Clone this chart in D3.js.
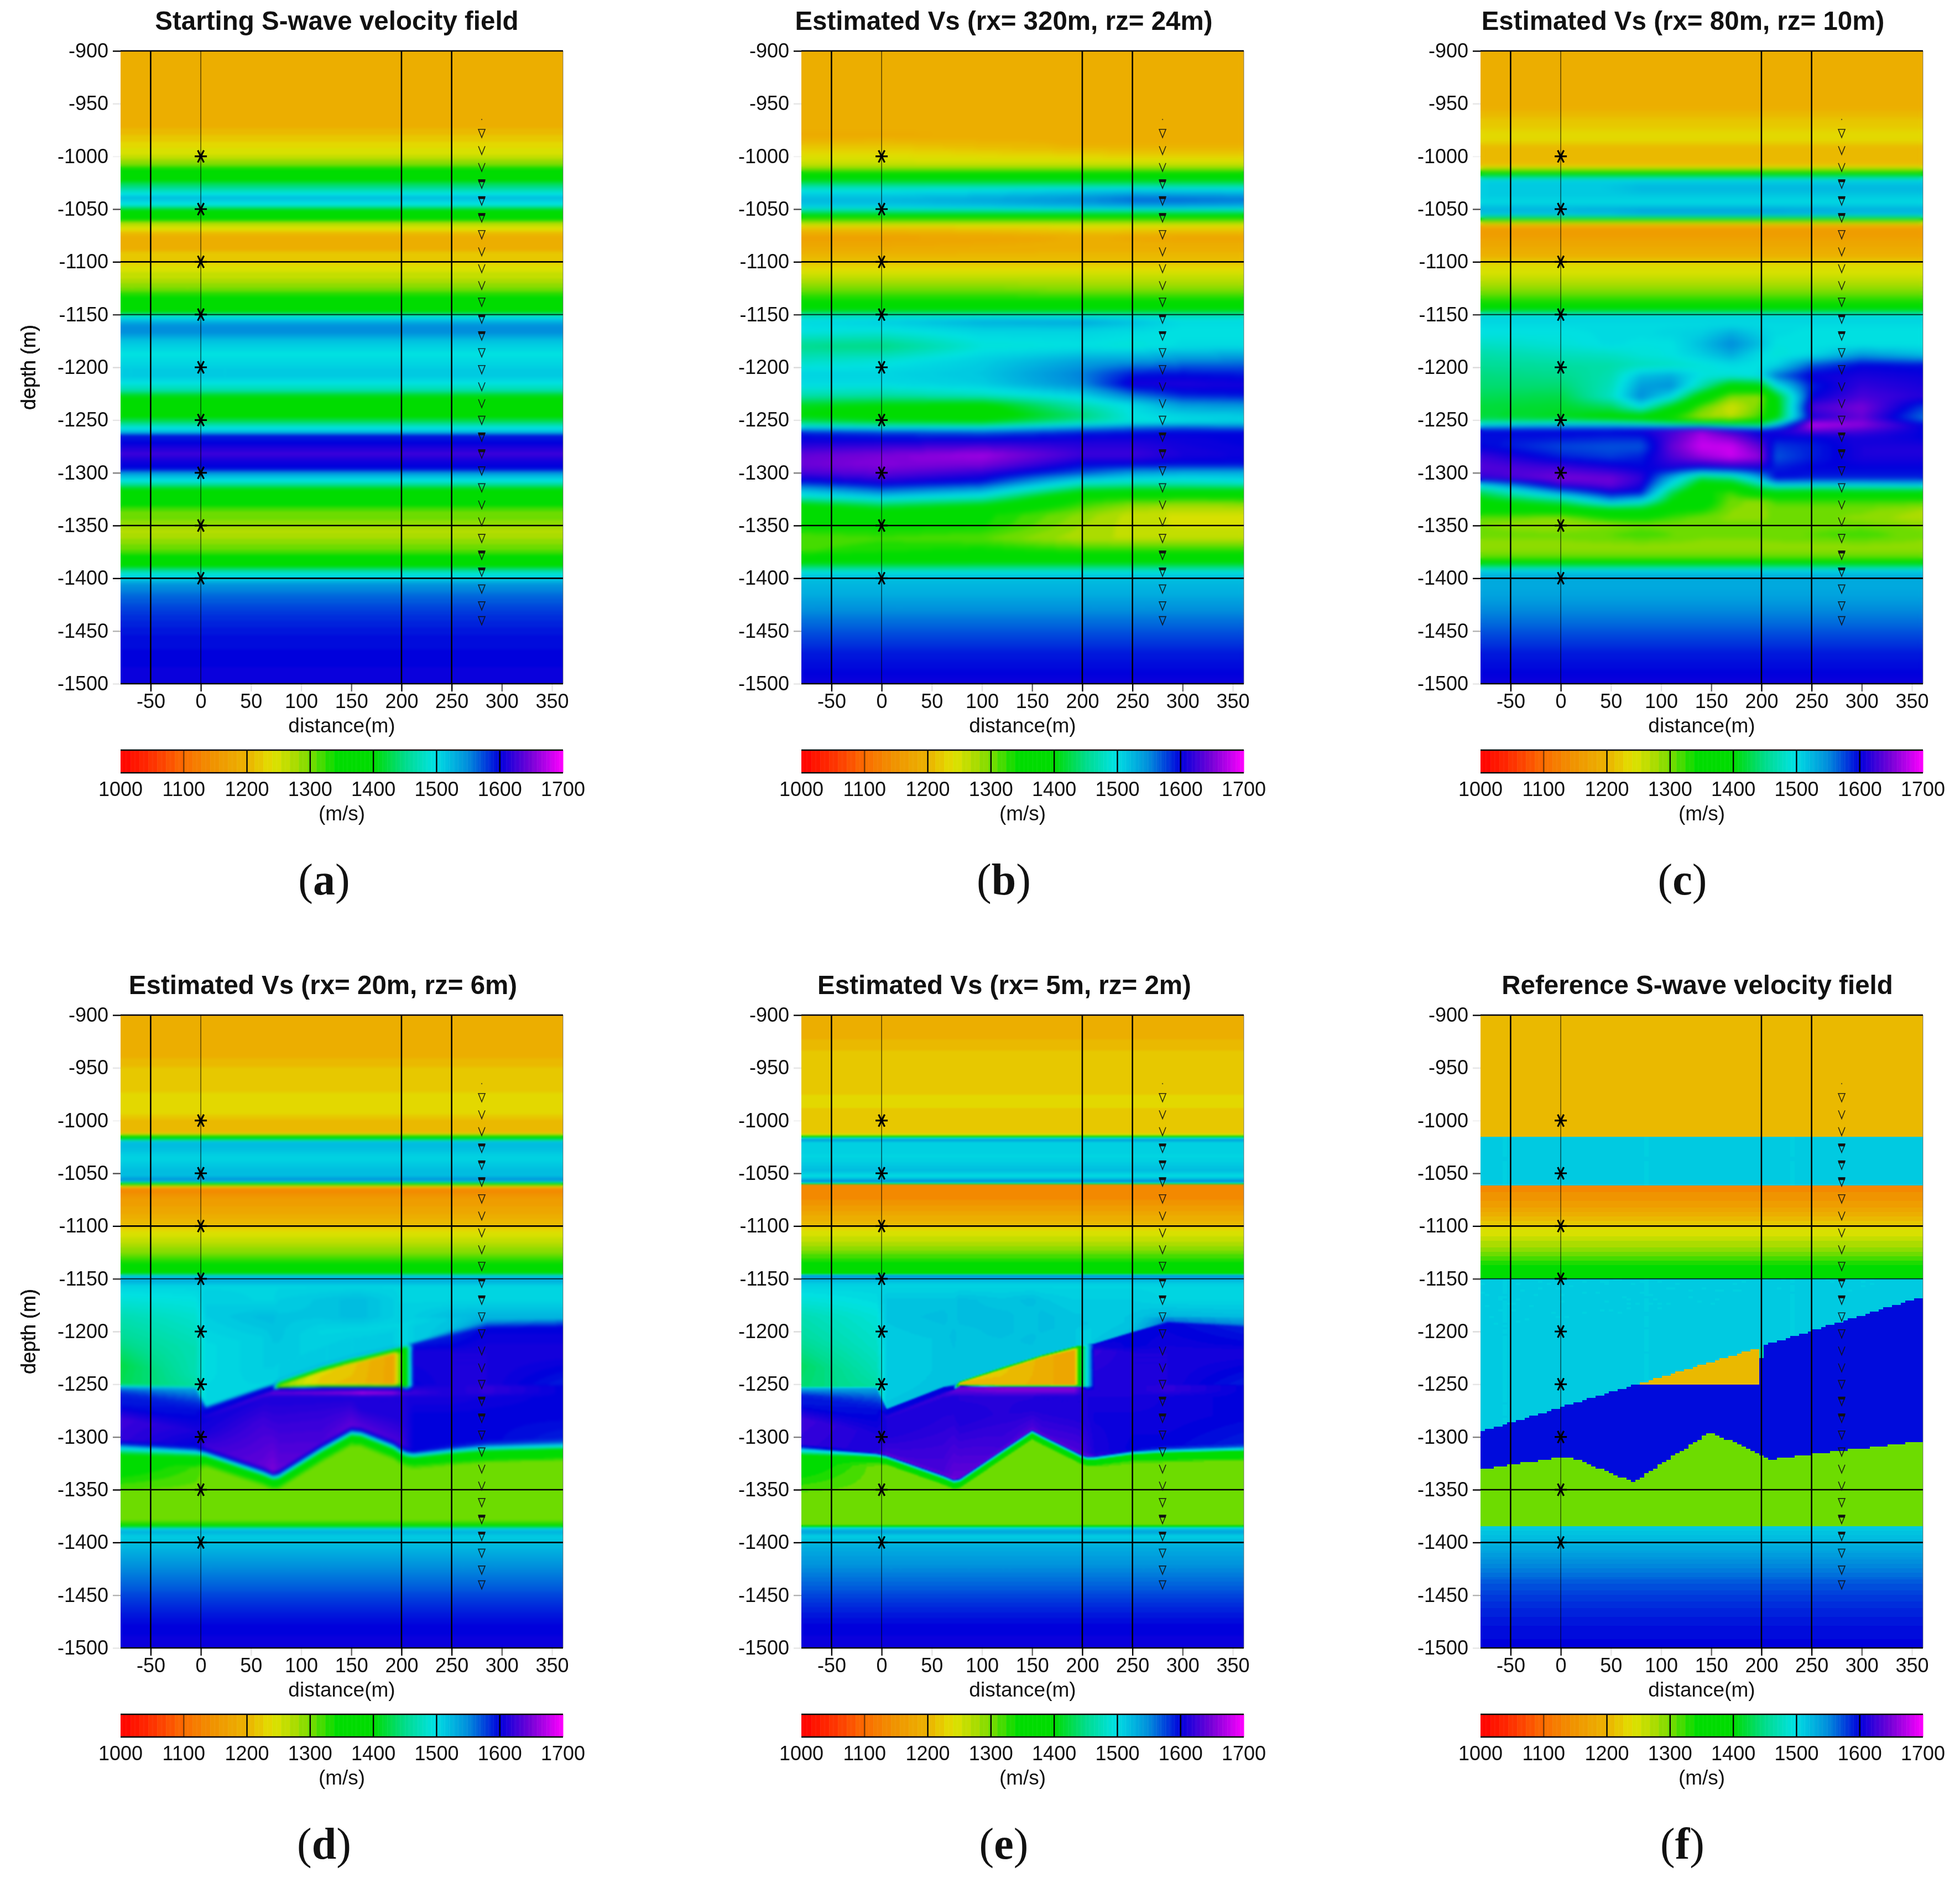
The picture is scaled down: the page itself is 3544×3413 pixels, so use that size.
<!DOCTYPE html>
<html>
<head>
<meta charset="utf-8">
<script src="https://cdn.jsdelivr.net/npm/d3@7"></script>
<style>
html, body { margin: 0; padding: 0; background: #fff; }
#wrap { position: relative; width: 3544px; height: 3413px; overflow: hidden; }
canvas, svg { position: absolute; left: 0; top: 0; }
text { font-family: "Liberation Sans", Arial, sans-serif; fill: #111; }
</style>
</head>
<body>
<div id="wrap"></div>
<script>
// ticks
const xTicks = [-50, 0, 50, 100, 150, 200, 250, 300, 350]
const yTicks = [-900, -950, -1000, -1050, -1100, -1150, -1200, -1250, -1300, -1350, -1400, -1450, -1500]
const colorTicks = [1000, 1100, 1200, 1300, 1400, 1500, 1600, 1700]
// how dark each tick and grid line came out in the picture
const xTickAlpha = [1, 0.9, 0.1, 0.1, 0.6, 1, 1, 0.6, 0.1]
const xLineAlpha = [1, 0.6, 0, 0, 0, 1, 1, 0, 0]
const yTickAlpha = [1, 0.1, 0.05, 0.7, 1, 0.8, 0.15, 0.1, 0.5, 1, 1, 0.3, 0.1]
const yLineAlpha = [1, 0, 0, 0, 1, 0.75, 0, 0, 0, 1, 1, 0, 1]
const colorTickAlpha = [0, 0.5, 1, 1, 1, 1, 1, 0]

// palette of the colour bar
const paletteVs = [1000, 1040, 1100, 1150, 1200, 1240, 1270, 1300, 1340, 1400, 1450, 1495, 1510, 1550, 1600, 1650, 1700]
const paletteColors = ['#ff0000', '#ff2800', '#fa6e00', '#f09600', '#ebb400', '#e1e100', '#b4dc00', '#73dc00', '#00dc00', '#00dc00', '#00dc8c', '#00e1e1', '#00cde1', '#008cdc', '#0000dc', '#7800d7', '#ff00ff']

// shots and receivers
const sourceX = 0
const sourceDepths = [-1000, -1050, -1100, -1150, -1200, -1250, -1300, -1350, -1400]
const receiverX = 280
const receiverDepths = [-978, -994, -1010, -1026, -1042, -1058, -1074, -1090, -1106, -1122, -1138, -1154, -1170, -1186, -1202, -1218, -1234, -1250, -1266, -1282, -1298, -1314, -1330, -1346, -1362, -1378, -1394, -1410, -1426, -1440]
const receiverStyle = [1, 0, 0, 2, 2, 2, 1, 0, 0, 0, 1, 2, 2, 1, 1, 0, 0, 1, 2, 2, 1, 1, 0, 0, 1, 2, 2, 1, 1, 1]

const titles = ['Starting S-wave velocity field', 'Estimated Vs (rx= 320m, rz= 24m)', 'Estimated Vs (rx= 80m, rz= 10m)', 'Estimated Vs (rx= 20m, rz= 6m)', 'Estimated Vs (rx= 5m, rz= 2m)', 'Reference S-wave velocity field']
const letters = ['a', 'b', 'c', 'd', 'e', 'f']

// each field is a list of [depth, vs] rows; a value is
// either one number or one number per column of the field's x list

// (a)
const xA = [-80, 361]
const rowsA = [
  [-900, 1195], [-973, 1195], [-986, 1225], [-999, 1255], [-1006, 1290], [-1013, 1340], [-1022, 1400], [-1032, 1470], [-1039, 1520], [-1046, 1490], [-1050, 1420], [-1055, 1370], [-1060, 1330], [-1063, 1280], [-1068, 1245], [-1074, 1200], [-1080, 1185], [-1088, 1190], [-1092, 1215], [-1100, 1225], [-1106, 1245], [-1116, 1265], [-1125, 1295], [-1133, 1340], [-1146, 1390], [-1150, 1450], [-1153, 1505], [-1160, 1545], [-1166, 1550], [-1174, 1520], [-1187, 1495],
  [-1193, 1500], [-1201, 1510], [-1209, 1510], [-1215, 1495], [-1221, 1470], [-1227, 1410], [-1237, 1370], [-1245, 1390], [-1251, 1430], [-1257, 1490], [-1261, 1520], [-1265, 1590], [-1272, 1600], [-1282, 1625], [-1290, 1605], [-1296, 1595], [-1302, 1530], [-1308, 1490], [-1314, 1420], [-1324, 1350], [-1330, 1340], [-1336, 1310], [-1348, 1290], [-1356, 1265], [-1364, 1285], [-1374, 1310], [-1380, 1350], [-1388, 1400], [-1396, 1490], [-1400, 1510], [-1406, 1545], [-1418, 1565], [-1438, 1585], [-1456, 1595], [-1488, 1603], [-1500, 1605]
]

// (b)
const xB = [-80, 0, 100, 200, 250, 300, 361]
const rowsB = [
  [-900, 1195], [-970, 1195], [-979, [1180, 1180, 1185, 1195, 1195, 1195, 1195]], [-990, [1212, 1215, 1205, 1195, 1195, 1195, 1195]], [-1000, [1240, 1240, 1235, 1230, 1225, 1225, 1225]], [-1008, 1260], [-1013, 1300], [-1015, 1345], [-1022, 1400], [-1027, 1450],
  [-1032, [1495, 1495, 1500, 1510, 1515, 1510, 1510]], [-1041, [1525, 1525, 1535, 1550, 1565, 1565, 1560]], [-1048, [1510, 1510, 1515, 1525, 1530, 1530, 1525]], [-1053, 1440], [-1057, 1370], [-1061, 1300], [-1064, 1255], [-1068, [1215, 1215, 1220, 1230, 1230, 1225, 1225]], [-1077, [1165, 1165, 1172, 1185, 1180, 1175, 1175]], [-1085, [1180, 1180, 1185, 1190, 1190, 1190, 1190]],
  [-1097, 1205], [-1103, 1225], [-1114, 1260], [-1126, [1300, 1300, 1300, 1292, 1290, 1290, 1290]], [-1137, 1342], [-1146, 1395], [-1150, 1470],
  [-1156, [1500, 1510, 1530, 1535, 1520, 1500, 1500]], [-1166, [1495, 1490, 1505, 1505, 1500, 1495, 1495]], [-1180, [1450, 1445, 1490, 1495, 1490, 1500, 1500]], [-1194, [1480, 1490, 1510, 1535, 1540, 1550, 1555]], [-1206, [1505, 1505, 1515, 1555, 1590, 1595, 1590]], [-1216, [1500, 1500, 1510, 1550, 1610, 1612, 1608]], [-1226, [1470, 1465, 1480, 1510, 1560, 1590, 1595]], [-1236, [1410, 1400, 1390, 1470, 1500, 1540, 1545]], [-1246, [1400, 1380, 1375, 1440, 1495, 1505, 1510]], [-1252, [1440, 1420, 1410, 1470, 1490, 1500, 1510]], [-1257, [1510, 1500, 1500, 1540, 1560, 1570, 1560]], [-1262, [1590, 1580, 1570, 1590, 1595, 1600, 1600]], [-1270, [1605, 1605, 1610, 1610, 1610, 1605, 1600]], [-1283, [1640, 1650, 1665, 1625, 1625, 1610, 1605]], [-1292, [1645, 1655, 1650, 1600, 1600, 1595, 1595]], [-1300, [1630, 1640, 1620, 1570, 1540, 1530, 1530]], [-1309, [1590, 1610, 1590, 1490, 1480, 1480, 1490]], [-1317, [1520, 1560, 1530, 1410, 1400, 1400, 1400]], [-1323, [1480, 1510, 1480, 1345, 1340, 1340, 1340]], [-1331, [1390, 1430, 1400, 1320, 1290, 1280, 1285]], [-1340, [1350, 1355, 1345, 1290, 1260, 1250, 1250]], [-1350, [1345, 1345, 1340, 1280, 1260, 1250, 1250]], [-1362, [1310, 1320, 1310, 1270, 1265, 1265, 1265]], [-1374, [1320, 1335, 1345, 1330, 1330, 1330, 1330]], [-1383, [1370, 1370, 1380, 1380, 1380, 1380, 1380]],
  [-1389, 1440], [-1395, 1500], [-1400, 1520], [-1415, 1530], [-1440, 1560], [-1470, 1590], [-1500, 1605]
]

// (c)
const xC = [-80, 0, 50, 80, 110, 140, 170, 198, 215, 250, 300, 361]
const rowsC = [
  [-900, 1195], [-956, 1195], [-960, 1205], [-974, 1225], [-986, 1230], [-990, 1205], [-1007, 1205], [-1011, 1240], [-1013, 1290], [-1015, 1350], [-1018, 1390], [-1019.5, 1470], [-1023, 1510], [-1030, [1510, 1510, 1515, 1525, 1525, 1525, 1525, 1525, 1525, 1525, 1525, 1525]], [-1039, 1510], [-1044, 1500], [-1049, 1525], [-1053, [1525, 1525, 1530, 1540, 1540, 1540, 1540, 1540, 1540, 1535, 1530, 1530]], [-1057, 1500], [-1059, 1390], [-1061, 1300], [-1064, 1220], [-1067, 1165], [-1074, 1160], [-1082, 1175], [-1097, 1200], [-1102, 1235], [-1114, 1255], [-1126, 1290], [-1140, 1340], [-1146, 1395], [-1149, 1480], [-1154, 1510],
  [-1158, 1500],
  [-1168, [1495, 1495, 1500, 1500, 1505, 1510, 1530, 1510, 1500, 1495, 1495, 1495]],
  [-1178, [1480, 1490, 1500, 1495, 1495, 1520, 1550, 1520, 1495, 1495, 1495, 1495]],
  [-1188, [1465, 1475, 1480, 1490, 1495, 1510, 1530, 1500, 1490, 1500, 1540, 1520]],
  [-1198, [1455, 1460, 1465, 1475, 1480, 1490, 1500, 1495, 1505, 1570, 1600, 1595]],
  [-1208, [1445, 1450, 1470, 1520, 1530, 1495, 1490, 1500, 1560, 1605, 1610, 1605]],
  [-1218, [1440, 1440, 1475, 1540, 1545, 1470, 1380, 1390, 1490, 1590, 1620, 1610]],
  [-1228, [1430, 1425, 1480, 1550, 1500, 1380, 1295, 1290, 1400, 1600, 1630, 1615]],
  [-1238, [1420, 1415, 1430, 1490, 1400, 1310, 1250, 1300, 1390, 1630, 1650, 1580]],
  [-1248, [1420, 1410, 1390, 1370, 1330, 1280, 1270, 1320, 1400, 1610, 1640, 1560]],
  [-1254.5, [1500, 1520, 1520, 1510, 1490, 1480, 1450, 1440, 1520, 1680, 1660, 1600]],
  [-1260, [1600, 1600, 1600, 1610, 1630, 1660, 1620, 1600, 1610, 1640, 1630, 1600]],
  [-1266, [1595, 1595, 1590, 1590, 1630, 1670, 1650, 1610, 1600, 1600, 1610, 1600]],
  [-1275, [1600, 1575, 1570, 1570, 1640, 1680, 1680, 1640, 1580, 1590, 1610, 1610]],
  [-1285, [1625, 1590, 1580, 1590, 1630, 1660, 1680, 1660, 1570, 1590, 1610, 1610]],
  [-1295, [1635, 1625, 1610, 1600, 1610, 1600, 1610, 1610, 1590, 1600, 1600, 1600]],
  [-1305, [1620, 1650, 1645, 1620, 1530, 1430, 1450, 1530, 1600, 1590, 1590, 1590]],
  [-1312, [1500, 1620, 1640, 1610, 1490, 1380, 1380, 1450, 1500, 1500, 1500, 1510]],
  [-1319, [1430, 1540, 1600, 1590, 1430, 1350, 1320, 1380, 1380, 1370, 1380, 1380]],
  [-1327, [1390, 1440, 1530, 1500, 1400, 1370, 1300, 1290, 1320, 1320, 1320, 1320]],
  [-1335, [1360, 1370, 1400, 1400, 1350, 1340, 1295, 1290, 1300, 1300, 1300, 1280]],
  [-1343, [1310, 1290, 1340, 1345, 1320, 1300, 1290, 1290, 1300, 1300, 1290, 1270]],
  [-1349, [1295, 1280, 1290, 1300, 1300, 1300, 1300, 1300, 1300, 1300, 1300, 1290]],
  [-1359, [1300, 1300, 1310, 1320, 1310, 1300, 1300, 1300, 1305, 1310, 1320, 1300]],
  [-1371, 1285], [-1381, 1310], [-1385, 1380], [-1389, 1450], [-1393, 1510], [-1399, 1530], [-1415, 1535], [-1440, 1560], [-1470, 1590], [-1500, 1605]
]

// (d) and (e) share their columns: interfaces bend at these distances
const xDE = [-80, -5, 5, 62, 72, 78, 120, 150, 160, 192, 198, 205, 212, 250, 285, 361]

// (d)
const upperD = [
  [-900, 1195], [-940, 1195], [-944, 1210], [-970, 1215], [-977, 1235], [-994, 1225], [-1000, 1205], [-1012, 1210], [-1014, 1300], [-1015.5, 1370], [-1018, 1440], [-1020, 1520], [-1026, 1520], [-1036, 1505], [-1047, 1520], [-1053, 1520], [-1056.5, 1555], [-1058, 1500], [-1060, 1380], [-1062, 1240], [-1065, 1130], [-1075, 1160], [-1085, 1175], [-1098, 1205], [-1104, 1235], [-1115, 1265], [-1127, 1300], [-1136, 1340], [-1145, 1395], [-1147, 1510], [-1152, 1530], [-1157, 1505]
]
const middleD = [
  [-1170, [1490, 1495, 1510, 1505, 1505, 1510, 1515, 1520, 1520, 1510, 1505, 1505, 1505, 1505, 1505, 1505]],
  [-1186, [1470, 1485, 1510, 1520, 1520, 1515, 1515, 1520, 1520, 1510, 1510, 1510, 1510, 1520, 1525, 1525]],
  [[-1205, -1215, -1215, -1205, -1205, -1205, -1200, -1198, -1198, -1195, -1194, -1192, -1190, -1187, -1187, -1187], [1455, 1470, 1500, 1510, 1515, 1515, 1505, 1505, 1505, 1505, 1505, 1505, 1505, 1515, 1525, 1525]],
  [[-1232, -1240, -1240, -1235, -1235, -1230, -1215, -1205, -1205, -1200, -1200, -1198, -1195, -1190, -1188, -1188], [1425, 1470, 1500, 1510, 1510, 1510, 1510, 1510, 1510, 1510, 1505, 1505, 1510, 1515, 1530, 1530]],
  [[-1250, -1252, -1270, -1252, -1249, -1244, -1230, -1222, -1220, -1213, -1212, -1211, -1210, -1198, -1190, -1188], [1430, 1460, 1505, 1505, 1505, 1510, 1510, 1510, 1510, 1510, 1505, 1505, 1510, 1520, 1540, 1540]],
  [[-1253, -1254, -1272, -1254, -1251, -1246, -1232, -1224, -1222, -1215, -1214, -1212, -1212, -1204, -1197, -1196], [1540, 1535, 1560, 1570, 1560, 1530, 1530, 1530, 1530, 1530, 1520, 1510, 1590, 1590, 1600, 1600]],
  [[-1256, -1258, -1274, -1255, -1252, -1250, -1236, -1228, -1226, -1218, -1217, -1216, -1216, -1214, -1210, -1210], [1570, 1550, 1600, 1600, 1600, 1380, 1380, 1380, 1380, 1380, 1380, 1400, 1600, 1600, 1605, 1605]],
  [[-1258, -1262, -1275, -1256, -1253, -1251, -1239, -1231, -1229, -1222, -1221, -1220, -1220, -1220, -1220, -1220], [1580, 1565, 1600, 1600, 1600, 1300, 1230, 1220, 1205, 1175, 1300, 1400, 1610, 1610, 1610, 1610]],
  [[-1259, -1265, -1276, -1257, -1254, -1252, -1249.5, -1249.5, -1249.5, -1249.5, -1249.5, -1249.5, -1250, -1250, -1250, -1250], [1585, 1575, 1600, 1600, 1600, 1300, 1215, 1205, 1200, 1175, 1300, 1400, 1600, 1610, 1610, 1590]],
  [[-1260, -1268, -1277, -1258, -1255, -1253, -1252, -1252, -1252, -1252, -1252, -1252, -1252, -1252, -1252, -1252], [1590, 1585, 1600, 1600, 1600, 1380, 1380, 1380, 1380, 1380, 1380, 1400, 1610, 1610, 1620, 1600]],
  [[-1262, -1271, -1278, -1259, -1256, -1254, -1253, -1253, -1253, -1253, -1253, -1253, -1253, -1253, -1253, -1253], [1590, 1590, 1600, 1610, 1620, 1600, 1580, 1580, 1580, 1580, 1590, 1540, 1610, 1610, 1620, 1600]],
  [[-1264, -1274, -1280, -1260, -1258, -1258, -1258, -1258, -1258, -1258, -1258, -1258, -1258, -1258, -1258, -1258], [1590, 1595, 1610, 1630, 1640, 1640, 1650, 1660, 1670, 1660, 1640, 1630, 1625, 1610, 1620, 1600]],
  [[-1270, -1282, -1284, -1264, -1262, -1262, -1262, -1262, -1262, -1262, -1262, -1262, -1262, -1262, -1262, -1262], [1595, 1600, 1605, 1610, 1610, 1610, 1610, 1610, 1610, 1610, 1610, 1610, 1610, 1610, 1605, 1600]],
  [[-1283, -1295, -1296, -1285, -1283, -1283, -1278, -1272, -1272, -1278, -1280, -1280, -1280, -1280, -1280, -1280], [1625, 1610, 1610, 1625, 1620, 1620, 1620, 1620, 1610, 1610, 1610, 1610, 1600, 1600, 1600, 1600]]
]
const baseD = [-1310, -1314, -1316, -1334, -1338, -1337, -1312, -1296, -1297, -1309, -1313, -1316, -1317, -1313, -1310, -1308]
// offsets count downward from the interface
const rimD = [
  [-7, [1620, 1600, 1625, 1640, 1650, 1640, 1630, 1640, 1635, 1630, 1630, 1615, 1600, 1600, 1600, 1590]],
  [-3, [1580, 1590, 1600, 1610, 1620, 1600, 1600, 1600, 1600, 1600, 1600, 1600, 1600, 1590, 1580, 1570]],
  [0, 1510],
  [2, [1490, 1470, 1450, 1450, 1450, 1450, 1450, 1450, 1450, 1450, 1450, 1450, 1450, 1450, 1460, 1470]],
  [3.5, [1450, 1420, 1385, 1385, 1385, 1385, 1385, 1385, 1385, 1385, 1385, 1385, 1385, 1385, 1390, 1395]],
  [8, [1390, 1375, 1350, 1350, 1350, 1350, 1350, 1350, 1350, 1350, 1350, 1350, 1350, 1365, 1375, 1380]],
  [11, [1380, 1350, 1315, 1315, 1315, 1315, 1315, 1315, 1315, 1315, 1315, 1315, 1320, 1330, 1340, 1345]],
  [15, [1370, 1320, 1300, 1300, 1300, 1300, 1300, 1300, 1300, 1300, 1300, 1300, 1300, 1300, 1300, 1300]]
]
const lowerD = [
  [-1354, 1300], [-1365, 1300], [-1378, 1300], [-1383, 1330], [-1385, 1400], [-1386.5, 1500], [-1390, 1530], [-1394, 1510], [-1405, 1525], [-1420, 1545], [-1440, 1565], [-1460, 1585], [-1480, 1600], [-1500, 1605]
]

// (e)
const upperE = [
  [-900, 1195], [-923, 1195], [-924.5, 1210], [-970, 1215], [-982, 1235], [-994, 1215], [-1012, 1225], [-1014.5, 1300], [-1016, 1450], [-1018, 1540], [-1021, 1510], [-1035, 1505], [-1047, 1520], [-1053, 1500], [-1058, 1550], [-1060, 1420], [-1061, 1140], [-1071, 1130], [-1084, 1165], [-1098, 1205], [-1103, 1235], [-1115, 1265], [-1127, 1310], [-1136, 1345], [-1145, 1395], [-1147, 1540], [-1152, 1520], [-1157, 1505]
]
const middleE = [
  [-1170, [1490, 1500, 1515, 1515, 1515, 1520, 1515, 1520, 1515, 1510, 1510, 1510, 1510, 1510, 1505, 1505]],
  [-1186, [1470, 1490, 1515, 1520, 1515, 1520, 1520, 1515, 1520, 1515, 1515, 1510, 1510, 1515, 1525, 1520]],
  [[-1205, -1215, -1215, -1205, -1205, -1205, -1200, -1198, -1198, -1195, -1194, -1192, -1190, -1187, -1180, -1185], [1460, 1480, 1510, 1515, 1520, 1515, 1520, 1515, 1520, 1515, 1515, 1515, 1510, 1515, 1530, 1520]],
  [[-1232, -1240, -1240, -1235, -1235, -1230, -1215, -1205, -1205, -1200, -1200, -1198, -1195, -1190, -1185, -1188], [1435, 1470, 1510, 1515, 1515, 1515, 1515, 1520, 1515, 1515, 1510, 1510, 1510, 1515, 1540, 1530]],
  [[-1252, -1252, -1273, -1252, -1250, -1246, -1232, -1224, -1221, -1213, -1212, -1211, -1211, -1200, -1190, -1193], [1440, 1460, 1515, 1515, 1515, 1515, 1515, 1515, 1515, 1515, 1510, 1505, 1515, 1520, 1560, 1550]],
  [[-1254, -1254, -1274, -1253, -1251, -1247, -1233.5, -1225, -1222, -1214, -1213, -1212, -1212, -1201, -1192, -1196], [1530, 1535, 1600, 1600, 1560, 1520, 1520, 1520, 1520, 1520, 1510, 1510, 1600, 1600, 1600, 1590]],
  [[-1257, -1258, -1275, -1254, -1252, -1248, -1235, -1226, -1223, -1215, -1214, -1216, -1216, -1214, -1212, -1212], [1560, 1550, 1600, 1600, 1600, 1350, 1350, 1350, 1350, 1350, 1350, 1500, 1610, 1600, 1605, 1600]],
  [[-1259, -1262, -1276, -1255, -1253, -1249, -1237, -1228, -1225, -1218, -1216, -1218, -1218, -1220, -1220, -1220], [1575, 1565, 1600, 1600, 1600, 1210, 1215, 1200, 1190, 1170, 1400, 1500, 1620, 1610, 1610, 1610]],
  [[-1260, -1265, -1277, -1256, -1254, -1250, -1250, -1250, -1250, -1250, -1250, -1250, -1250, -1250, -1250, -1250], [1585, 1575, 1600, 1600, 1600, 1210, 1205, 1195, 1190, 1170, 1400, 1500, 1610, 1610, 1610, 1590]],
  [[-1261, -1268, -1278, -1257, -1255, -1251, -1251.5, -1251.5, -1251.5, -1251.5, -1251.5, -1251.5, -1251.5, -1251.5, -1251.5, -1251.5], [1590, 1585, 1600, 1600, 1600, 1350, 1350, 1350, 1350, 1350, 1350, 1500, 1610, 1610, 1620, 1600]],
  [[-1262, -1271, -1279, -1258, -1256, -1252, -1253, -1253, -1253, -1253, -1253, -1253, -1253, -1253, -1253, -1253], [1590, 1590, 1605, 1610, 1640, 1640, 1650, 1650, 1650, 1650, 1630, 1570, 1610, 1610, 1620, 1600]],
  [[-1264, -1274, -1281, -1260, -1258, -1256, -1256, -1256, -1256, -1256, -1256, -1256, -1256, -1256, -1256, -1256], [1590, 1595, 1615, 1625, 1635, 1640, 1650, 1650, 1650, 1650, 1625, 1610, 1610, 1610, 1620, 1600]],
  [[-1270, -1282, -1285, -1264, -1262, -1262, -1262, -1262, -1262, -1262, -1262, -1262, -1262, -1262, -1262, -1262], [1595, 1600, 1610, 1610, 1610, 1615, 1615, 1615, 1610, 1610, 1610, 1610, 1610, 1610, 1605, 1600]],
  [[-1283, -1298, -1297, -1285, -1283, -1283, -1278, -1272, -1272, -1278, -1280, -1280, -1280, -1280, -1280, -1280], [1625, 1610, 1610, 1615, 1615, 1610, 1615, 1610, 1610, 1610, 1610, 1610, 1605, 1605, 1605, 1600]]
]
const baseE = [-1312, -1317, -1319, -1338, -1342, -1341, -1314, -1295, -1300, -1315, -1318, -1320, -1320, -1315, -1313, -1311]
const rimE = [
  [-5, [1620, 1610, 1625, 1630, 1640, 1640, 1625, 1630, 1625, 1630, 1630, 1620, 1610, 1600, 1600, 1590]],
  [-2, [1580, 1620, 1640, 1640, 1650, 1640, 1640, 1640, 1640, 1640, 1640, 1640, 1620, 1600, 1580, 1570]],
  [0, 1510],
  [1.5, [1490, 1450, 1440, 1440, 1440, 1440, 1440, 1440, 1440, 1440, 1440, 1440, 1440, 1440, 1450, 1460]],
  [2.5, [1460, 1400, 1375, 1375, 1375, 1375, 1375, 1375, 1375, 1375, 1375, 1375, 1375, 1375, 1385, 1390]],
  [6, [1390, 1350, 1345, 1345, 1345, 1345, 1345, 1345, 1345, 1345, 1345, 1345, 1350, 1355, 1365, 1370]],
  [8, [1380, 1320, 1305, 1305, 1305, 1305, 1305, 1305, 1305, 1305, 1305, 1305, 1310, 1320, 1340, 1350]],
  [12, [1370, 1300, 1300, 1300, 1300, 1300, 1300, 1300, 1300, 1300, 1300, 1300, 1300, 1300, 1300, 1300]]
]
const lowerE = [
  [-1356, 1300], [-1370, 1300], [-1378, 1300], [-1383.5, 1300], [-1385, 1420], [-1386.5, 1510], [-1390, 1535], [-1394, 1510], [-1405, 1530], [-1420, 1545], [-1440, 1565], [-1460, 1585], [-1480, 1600], [-1500, 1605]
]

// (f)
const xF = [-80, 0, 10, 70, 72, 150, 199.9, 200.1, 210, 361]
const blueTopF = [-1295, -1272, -1269, -1252, -1251, -1229, -1215, -1214, -1211, -1167]
const wedgeBaseF = [-1295, -1272, -1269, -1252, -1251, -1251, -1251, -1214, -1211, -1167]
const blueBaseF = [-1331, -1319, -1319, -1342, -1343, -1295, -1318, -1318, -1321, -1304]
const wedgeVsF = [1595, 1595, 1595, 1200, 1200, 1200, 1200, 1595, 1595, 1595]
const rowsF = [
  [-900, 1200], [-1015, 1200], [-1015, 1510], [-1061, 1510], [-1061, 1130], [-1075, 1150], [-1090, 1190], [-1100, 1230], [-1110, 1255], [-1120, 1280], [-1130, 1310], [-1140, 1350], [-1149, 1395], [-1149, 1510],
  [blueTopF, 1510], [blueTopF, wedgeVsF], [wedgeBaseF, wedgeVsF], [wedgeBaseF, 1595], [blueBaseF, 1595], [blueBaseF, 1300],
  [-1384.5, 1300], [-1384.5, 1510], [-1400, 1525], [-1420, 1550], [-1440, 1570], [-1460, 1585], [-1480, 1595], [-1500, 1600]
]

// rows that follow an interface, given as offsets below it
const rimRows = (base, rim) => rim.map(r => [base.map(d => d - r[0]), r[1]])
const rowsD = [...upperD, ...middleD, ...rimRows(baseD, rimD), ...lowerD]
const rowsE = [...upperE, ...middleE, ...rimRows(baseE, rimE), ...lowerE]

// blur = softness of the scan in the picture, cellW/cellH = grid steps
const fields = [
  { x: xA, rows: rowsA, blur: 2, cellW: 2, cellH: 2 },
  { x: xB, rows: rowsB, blur: 4, cellW: 2, cellH: 2 },
  { x: xC, rows: rowsC, blur: 5, cellW: 2, cellH: 2 },
  { x: xDE, rows: rowsD, blur: 2.5, cellW: 2, cellH: 2 },
  { x: xDE, rows: rowsE, blur: 1.5, cellW: 2, cellH: 2 },
  { x: xF, rows: rowsF, blur: 0.6, cellW: 8, cellH: 4 }
]

// layout
const colLeft = [218, 1449, 2677]
const rowTop = [92, 1835]
const plotW = 800, plotH = 1144
const titleX = [609, 1815, 3043, 584, 1816, 3069]
const letterX = [586, 1815, 3042, 586, 1815, 3042]

const wrap = d3.select('#wrap')
const canvas = wrap.append('canvas').attr('width', 3544).attr('height', 3413)
const ctx = canvas.node().getContext('2d')
ctx.fillStyle = '#fff'
ctx.fillRect(0, 0, 3544, 3413)
const svg = wrap.append('svg').attr('width', 3544).attr('height', 3413)

const xScale = d3.scaleLinear().domain([-80, 361]).range([0, plotW])
const yScale = d3.scaleLinear().domain([-900, -1500]).range([0, plotH])
const barScale = d3.scaleLinear().domain([1000, 1700]).range([0, plotW])
const palette = d3.scaleLinear().domain(paletteVs).range(paletteColors)

// the palette has visible steps, wide below 1340 and narrow above
const vsColor = v => palette(v < 1340 ? Math.round(v / 14) * 14 : Math.round(v / 4) * 4)

const pick = (a, i) => Array.isArray(a) ? a[i] : a

function drawField(field, left, top) {
  const xs = field.x, rows = field.rows
  const cellW = field.cellW, cellH = field.cellH
  const off = document.createElement('canvas')
  off.width = plotW
  off.height = plotH
  const oc = off.getContext('2d')
  for (let px = 0; px < plotW; px += cellW) {
    const xm = xScale.invert(px + cellW / 2)
    const i = Math.max(0, Math.min(xs.length - 2, d3.bisectRight(xs, xm) - 1))
    const t = Math.max(0, Math.min(1, (xm - xs[i]) / (xs[i + 1] - xs[i])))
    const ds = rows.map(r => pick(r[0], i) * (1 - t) + pick(r[0], i + 1) * t)
    const vs = rows.map(r => pick(r[1], i) * (1 - t) + pick(r[1], i + 1) * t)
    let r = 0, runStart = 0, runColor = null
    for (let py = 0; py < plotH; py += cellH) {
      const z = yScale.invert(py + cellH / 2)
      while (r < rows.length - 2 && z < ds[r + 1]) r++
      const span = ds[r] - ds[r + 1]
      const f = span > 0 ? Math.max(0, Math.min(1, (ds[r] - z) / span)) : 1
      const color = vsColor(vs[r] * (1 - f) + vs[r + 1] * f)
      if (color !== runColor) {
        if (runColor) { oc.fillStyle = runColor; oc.fillRect(px, runStart, cellW, py - runStart) }
        runColor = color
        runStart = py
      }
    }
    oc.fillStyle = runColor
    oc.fillRect(px, runStart, cellW, plotH - runStart)
  }
  // plain copy first so the blurred one does not fade at the frame
  ctx.drawImage(off, left, top)
  ctx.save()
  ctx.beginPath()
  ctx.rect(left, top, plotW, plotH)
  ctx.clip()
  ctx.filter = `blur(${field.blur}px)`
  ctx.drawImage(off, left, top)
  ctx.restore()
}

function asterisk(size) {
  const p = d3.path()
  ;[0, 60, 120].forEach(a => {
    const dx = Math.cos(a * Math.PI / 180) * size, dy = Math.sin(a * Math.PI / 180) * size * 1.15
    p.moveTo(-dx, -dy)
    p.lineTo(dx, dy)
  })
  return p.toString()
}

function drawPanel(index) {
  const left = colLeft[index % 3], top = rowTop[Math.floor(index / 3)]
  drawField(fields[index], left, top)

  const g = svg.append('g').attr('transform', `translate(${left},${top})`)

  // right edge of the frame
  g.append('line').attr('x1', plotW).attr('x2', plotW).attr('y1', 0).attr('y2', plotH)
    .attr('stroke', '#555').attr('stroke-width', 1.2).attr('opacity', 0.6)

  // grid lines that survived in the picture
  g.selectAll('.vline').data(xTicks).enter().append('line')
    .attr('x1', d => xScale(d)).attr('x2', d => xScale(d))
    .attr('y1', 0).attr('y2', plotH)
    .attr('stroke', '#000')
    .attr('stroke-width', (d, i) => xLineAlpha[i] < 1 ? 1.6 : 2.6)
    .attr('opacity', (d, i) => xLineAlpha[i])
  g.selectAll('.hline').data(yTicks).enter().append('line')
    .attr('x1', 0).attr('x2', plotW)
    .attr('y1', d => yScale(d)).attr('y2', d => yScale(d))
    .attr('stroke', '#000')
    .attr('stroke-width', (d, i) => yLineAlpha[i] < 1 ? 2 : 2.6)
    .attr('opacity', (d, i) => yLineAlpha[i])

  // axes
  const yAxis = g.append('g').call(d3.axisLeft(yScale).tickValues(yTicks).tickSize(14).tickPadding(8).tickFormat(d => String(d)))
  yAxis.select('.domain').remove()
  yAxis.selectAll('.tick line').attr('stroke', '#000').attr('stroke-width', 2.4).attr('opacity', (d, i) => yTickAlpha[i])
  yAxis.selectAll('text').style('font-size', '36px')

  const xAxis = g.append('g').attr('transform', `translate(0,${plotH})`)
    .call(d3.axisBottom(xScale).tickValues(xTicks).tickSize(14).tickPadding(4).tickFormat(d => String(d)))
  xAxis.select('.domain').remove()
  xAxis.selectAll('.tick line').attr('stroke', '#000').attr('stroke-width', 2.4).attr('opacity', (d, i) => xTickAlpha[i])
  xAxis.selectAll('text').style('font-size', '36px')

  g.append('text').attr('x', plotW / 2).attr('y', plotH + 88).attr('text-anchor', 'middle')
    .style('font-size', '37px').text('distance(m)')
  g.append('text').attr('transform', `translate(${52 - left + 12},${yScale(-1200)}) rotate(-90)`).attr('text-anchor', 'middle')
    .style('font-size', '36px').text('depth (m)')

  // sources
  g.selectAll('.source').data(sourceDepths).enter().append('path')
    .attr('transform', d => `translate(${xScale(sourceX)},${yScale(d)})`)
    .attr('d', asterisk(11)).attr('fill', 'none').attr('stroke', '#000').attr('stroke-width', 3.2)

  // receivers, plus the small speck above the first one
  g.append('circle').attr('cx', xScale(receiverX)).attr('cy', yScale(-965)).attr('r', 1.2).attr('fill', '#222').attr('opacity', 0.6)
  const recv = g.selectAll('.receiver').data(receiverDepths).enter().append('g')
    .attr('transform', d => `translate(${xScale(receiverX)},${yScale(d)})`)
  recv.append('path').attr('fill', 'none').attr('stroke', '#111').attr('stroke-width', 1.6).attr('stroke-opacity', 0.85)
    .attr('d', (d, i) => receiverStyle[i] === 0 ? 'M-6,-7L0,8L6,-7' : 'M-6,-7L0,8L6,-7Z')
  recv.filter((d, i) => receiverStyle[i] === 2).append('rect')
    .attr('x', -6).attr('y', -8).attr('width', 12).attr('height', 5).attr('fill', '#111')

  // title and panel letter
  const rowOffset = Math.floor(index / 3) === 0 ? 0 : rowTop[1] - rowTop[0]
  svg.append('text').attr('x', titleX[index]).attr('y', 54 + rowOffset).attr('text-anchor', 'middle')
    .style('font-size', '47.5px').style('font-weight', 'bold').text(titles[index])
  const letter = svg.append('text').attr('x', letterX[index]).attr('y', 1617 + rowOffset).attr('text-anchor', 'middle')
    .style('font-family', '"Liberation Serif", serif').style('font-size', '80px').style('font-weight', 'normal')
  letter.append('tspan').style('font-weight', 'normal').text('(')
  letter.append('tspan').style('font-weight', 'bold').text(letters[index])
  letter.append('tspan').style('font-weight', 'normal').text(')')

  // colour bar
  const barTop = 1356 + rowOffset, barH = 41
  const bar = svg.append('g').attr('transform', `translate(${left},${barTop})`)
  bar.selectAll('rect').data(d3.range(1000, 1700, 2)).enter().append('rect')
    .attr('x', d => barScale(d)).attr('width', barScale(1002) - barScale(1000) + 0.5)
    .attr('y', 0).attr('height', barH)
    .attr('fill', d => vsColor(d))
  bar.selectAll('.fr').data([0, barH]).enter().append('line')
    .attr('x1', 0).attr('x2', plotW).attr('y1', d => d).attr('y2', d => d)
    .attr('stroke', '#000').attr('stroke-width', 2.6)
  bar.selectAll('.tk').data(colorTicks).enter().append('line')
    .attr('x1', d => barScale(d)).attr('x2', d => barScale(d)).attr('y1', 0).attr('y2', barH)
    .attr('stroke', '#000').attr('stroke-width', 2.4).attr('opacity', (d, i) => colorTickAlpha[i])
  bar.selectAll('text').data(colorTicks).enter().append('text')
    .attr('x', d => barScale(d)).attr('y', barH + 42).attr('text-anchor', 'middle')
    .style('font-size', '36px').text(d => d)
  bar.append('text').attr('x', plotW / 2).attr('y', barH + 86).attr('text-anchor', 'middle')
    .style('font-size', '37px').text('(m/s)')
}

d3.range(6).forEach(drawPanel)
</script>
</body>
</html>
